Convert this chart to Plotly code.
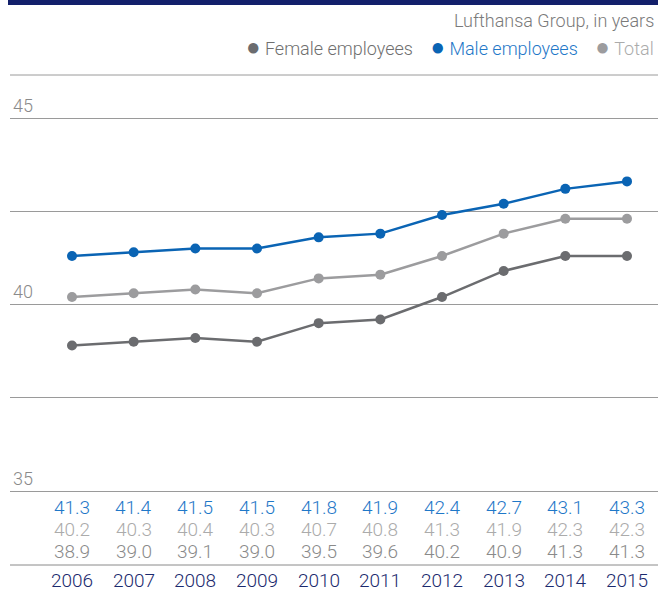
import plotly.graph_objects as go

years = [2006, 2007, 2008, 2009, 2010, 2011, 2012, 2013, 2014, 2015]
male = [41.3, 41.4, 41.5, 41.5, 41.8, 41.9, 42.4, 42.7, 43.1, 43.3]
total = [40.2, 40.3, 40.4, 40.3, 40.7, 40.8, 41.3, 41.9, 42.3, 42.3]
female = [38.9, 39.0, 39.1, 39.0, 39.5, 39.6, 40.2, 40.9, 41.3, 41.3]
y_ticks = [35, 37.5, 40, 42.5, 45]
y_ticktext = ["35", "", "40", "", "45"]

C_MALE = "#0a64b4"
C_TOTAL = "#9c9c9e"
C_FEMALE = "#6b6c6f"
C_MALE_T = "#1f78c8"
C_TOTAL_T = "#ababab"
C_FEMALE_T = "#8a8a8a"
NAVY = "#1b2a6e"
FONT = "Roboto"
WT = 300

W, H = 658, 591


def py(pix):
    return (H - pix) / H


fig = go.Figure()
for vals, col in [(female, C_FEMALE), (total, C_TOTAL), (male, C_MALE)]:
    fig.add_trace(go.Scatter(x=years, y=vals, mode="lines+markers",
                             line=dict(color=col, width=2.5),
                             marker=dict(color=col, size=10),
                             showlegend=False, hoverinfo="skip"))

# data table rows under the chart
for vals, col, pix in [(male, C_MALE_T, 507), (total, C_TOTAL_T, 529), (female, C_FEMALE_T, 551)]:
    for yr, v in zip(years, vals):
        fig.add_annotation(x=yr, y=py(pix), xref="x", yref="paper", text=f"{v:.1f}",
                           showarrow=False, font=dict(family=FONT, size=19, color=col, weight=WT),
                           xanchor="center", yanchor="middle")
for yr in years:
    fig.add_annotation(x=yr, y=py(580), xref="x", yref="paper", text=str(yr),
                       showarrow=False, font=dict(family=FONT, size=19, color=NAVY, weight=WT),
                       xanchor="center", yanchor="middle")

# header & legend
fig.add_annotation(x=656 / W, y=py(20), xref="paper", yref="paper",
                   text="Lufthansa Group, in years", showarrow=False,
                   font=dict(family=FONT, size=18, color="#7a7a7a", weight=WT),
                   xanchor="right", yanchor="middle")
SP1 = "&nbsp;"
SP2 = "&nbsp;&nbsp;&nbsp;&nbsp;"
DOT = "<span style='color:{c};font-size:24px'>●</span>"
legend_html = (
    DOT.format(c=C_FEMALE) + SP1 +
    f"<span style='color:#6f6f6f'>Female employees</span>" + SP2 +
    DOT.format(c=C_MALE) + SP1 +
    f"<span style='color:{C_MALE_T}'>Male employees</span>" + SP2 +
    DOT.format(c=C_TOTAL) + SP1 +
    f"<span style='color:{C_TOTAL_T}'>Total</span>"
)
fig.add_annotation(x=656 / W, y=py(47), xref="paper", yref="paper", text=legend_html,
                   showarrow=False, font=dict(family=FONT, size=18, color="#7a7a7a", weight=WT),
                   xanchor="right", yanchor="middle")

# decorative lines
fig.add_shape(type="rect", xref="paper", yref="paper", x0=8 / W, x1=1, y0=py(5), y1=1,
              fillcolor="#13206b", line=dict(width=0))
fig.add_shape(type="line", xref="paper", yref="paper", x0=10 / W, x1=1, y0=py(75), y1=py(75),
              line=dict(color="#9a9a9a", width=1))
fig.add_shape(type="line", xref="paper", yref="paper", x0=10 / W, x1=1, y0=py(565), y1=py(565),
              line=dict(color="#8a8a8a", width=1))

ppu = (491 - 118) / 10.0
y_top = 45 + (118 - 80) / ppu
y_bot = 35 - (500 - 491) / ppu
ppx = (627 - 72) / 9.0
x_lo = 2006 - (72 - 10) / ppx
x_hi = 2015 + (658 - 627) / ppx

fig.update_layout(
    width=W, height=H, margin=dict(l=0, r=0, t=0, b=0),
    paper_bgcolor="white", plot_bgcolor="white",
    font=dict(family=FONT),
    xaxis=dict(domain=[10 / W, 1], range=[x_lo, x_hi], showgrid=False, zeroline=False,
               showticklabels=False, showline=False, fixedrange=True),
    yaxis=dict(domain=[py(500), py(80)], range=[y_bot, y_top], tickvals=y_ticks,
               ticktext=y_ticktext, ticklabelposition="inside top", ticks="",
               showgrid=True, gridcolor="#9a9a9a", gridwidth=1, zeroline=False,
               showline=False, tickfont=dict(family=FONT, size=18, color="#8a8a8a", weight=WT),
               fixedrange=True),
)
fig.write_html("out.html")
